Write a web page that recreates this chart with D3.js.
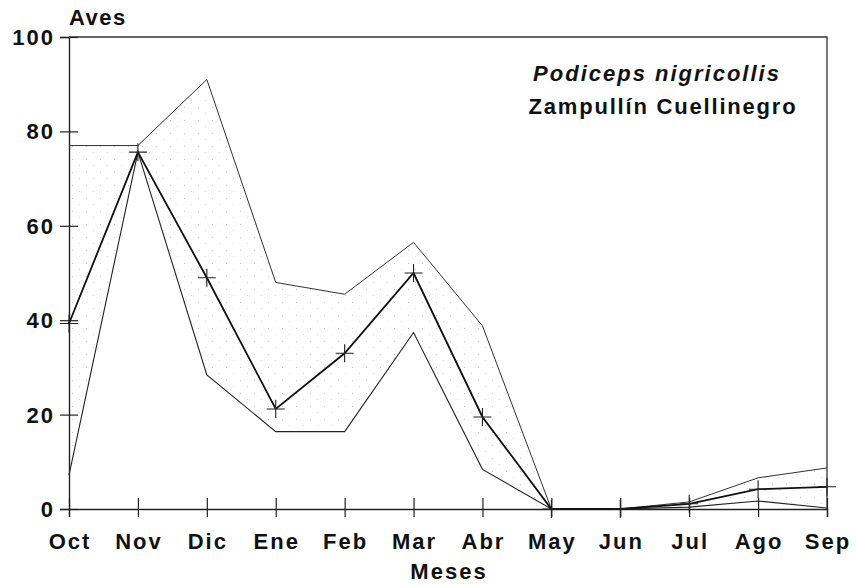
<!DOCTYPE html>
<html>

<head>
    <meta charset="utf-8">
    <style>
        body {
            margin: 0;
            background: white;
        }

        svg {
            display: block;
            font-family: 'Liberation Sans', Arial, sans-serif;
        }

        .lbl {
            font-size: 22px;
            font-weight: bold;
            letter-spacing: 2px;
            fill: #111;
        }
    </style>
</head>

<body>
    <svg width="856" height="587"></svg>

    <script src="https://d3js.org/d3.v7.min.js"></script>

    <script>
        // months (Oct -> Sep) and the three series
        let months = ["Oct", "Nov", "Dic", "Ene", "Feb", "Mar", "Abr", "May", "Jun", "Jul", "Ago", "Sep"];
        let maxVals = [77, 77, 91, 48, 45.5, 56.5, 38.8, 0, 0, 1.5, 6.6, 8.7];
        let meanVals = [39.3, 75.6, 49, 21.2, 33, 50, 19.5, 0, 0, 1.1, 4.2, 4.7];
        let minVals = [7.2, 75.6, 28.4, 16.4, 16.4, 37.4, 8.4, 0, 0, 0.4, 1.7, 0.2];
        let yTicks = [0, 20, 40, 60, 80, 100];

        let svg = d3.select("svg");
        let mLeft = 69, mRight = 827, mTop = 37, mBottom = 509;

        let x = d3.scalePoint().domain(months).range([mLeft, mRight]);
        let y = d3.scaleLinear().domain([0, 100]).range([mBottom, mTop]);

        // faint stipple for the band between min and max
        let defs = svg.append("defs");
        let pat = defs.append("pattern")
            .attr("id", "stip")
            .attr("width", 14)
            .attr("height", 13)
            .attr("patternUnits", "userSpaceOnUse");
        pat.append("rect").attr("x", 2).attr("y", 3).attr("width", 1).attr("height", 1).attr("fill", "#c4c4c4");
        pat.append("rect").attr("x", 9).attr("y", 9).attr("width", 1).attr("height", 1).attr("fill", "#d8d8d8");

        let rows = months.map((m, i) => ({ m: m, hi: maxVals[i], mid: meanVals[i], lo: minVals[i] }));

        let area = d3.area()
            .x(d => x(d.m))
            .y0(d => y(d.lo))
            .y1(d => y(d.hi));

        svg.append("path")
            .datum(rows)
            .attr("d", area)
            .attr("fill", "url(#stip)");

        // frame (top and right)
        svg.append("path")
            .attr("d", `M${mLeft},${mTop}H${mRight}V${mBottom}`)
            .attr("fill", "none")
            .attr("stroke", "#333")
            .attr("stroke-width", 1.3);

        // axes
        let yAxis = svg.append("g")
            .attr("transform", `translate(${mLeft},0)`)
            .call(d3.axisLeft(y).tickValues(yTicks).tickSize(9).tickFormat(""));
        yAxis.selectAll(".tick line").attr("x2", 9).attr("x1", -9);

        let xAxis = svg.append("g")
            .attr("transform", `translate(0,${mBottom})`)
            .call(d3.axisBottom(x).tickSize(8).tickFormat(""));
        xAxis.selectAll(".tick line").attr("y1", -11).attr("y2", 8);

        svg.selectAll(".domain").attr("stroke", "#222").attr("stroke-width", 1.4);
        svg.selectAll(".tick line").attr("stroke", "#222").attr("stroke-width", 1.2);

        // tick labels
        svg.append("g")
            .selectAll("text")
            .data(yTicks)
            .join("text")
            .attr("class", "lbl")
            .attr("x", 55)
            .attr("y", d => y(d) + 8)
            .attr("text-anchor", "end")
            .text(d => d);

        svg.append("g")
            .selectAll("text")
            .data(months)
            .join("text")
            .attr("class", "lbl")
            .attr("x", d => x(d) + 1)
            .attr("y", 549)
            .attr("text-anchor", "middle")
            .text(d => d);

        // min / max lines
        let line = key => d3.line().x(d => x(d.m)).y(d => y(d[key]));

        svg.append("path").datum(rows).attr("d", line("hi"))
            .attr("fill", "none").attr("stroke", "#333").attr("stroke-width", 1);
        svg.append("path").datum(rows).attr("d", line("lo"))
            .attr("fill", "none").attr("stroke", "#222").attr("stroke-width", 1.1);

        // mean line with + markers
        svg.append("path").datum(rows).attr("d", line("mid"))
            .attr("fill", "none").attr("stroke", "#111").attr("stroke-width", 1.8);

        svg.append("g")
            .selectAll("path")
            .data(rows)
            .join("path")
            .attr("d", d => `M${x(d.m) - 9},${y(d.mid)}h18M${x(d.m)},${y(d.mid) - 9}v18`)
            .attr("stroke", "#222")
            .attr("stroke-width", 1.1);

        // titles
        svg.append("text")
            .attr("class", "lbl")
            .attr("x", mLeft)
            .attr("y", 25)
            .style("font-size", "22px")
            .style("letter-spacing", "1.5px")
            .text("Aves");

        svg.append("text")
            .attr("class", "lbl")
            .attr("x", 449)
            .attr("y", 579)
            .attr("text-anchor", "middle")
            .text("Meses");

        svg.append("text")
            .attr("class", "lbl")
            .attr("x", 657)
            .attr("y", 81)
            .attr("text-anchor", "middle")
            .style("font-style", "italic")
            .style("font-size", "22px")
            .style("letter-spacing", "2px")
            .text("Podiceps nigricollis");

        svg.append("text")
            .attr("class", "lbl")
            .attr("x", 663)
            .attr("y", 114)
            .attr("text-anchor", "middle")
            .style("font-size", "22px")
            .style("letter-spacing", "1.8px")
            .text("Zampullín Cuellinegro");
    </script>
</body>

</html>
